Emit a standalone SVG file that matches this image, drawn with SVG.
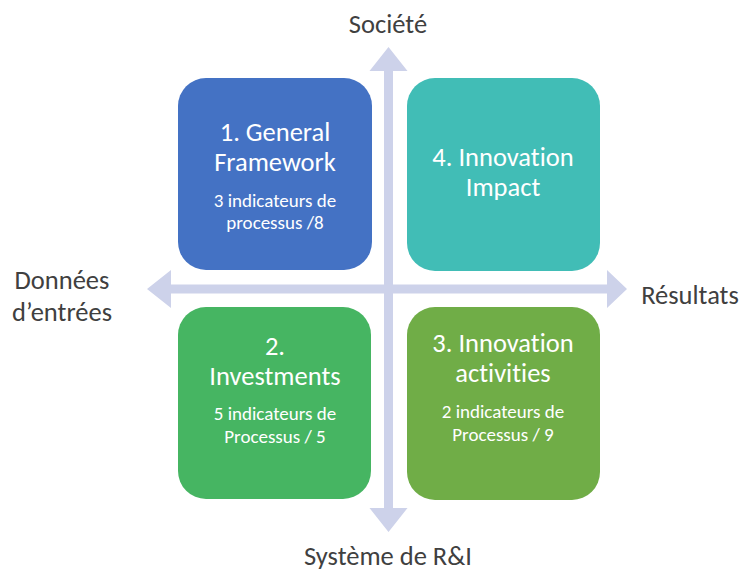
<svg xmlns="http://www.w3.org/2000/svg" width="745" height="572" viewBox="0 0 745 572">
<style>
.box{stroke:none}
.t{font-family:Calibri,Carlito,Lato,"Open Sans",sans-serif;fill:#ffffff;text-anchor:middle;font-variant-ligatures:none}
.h{font-size:26.5px}
.s{font-size:19px}
.lab{font-family:Calibri,Carlito,Lato,"Open Sans",sans-serif;fill:#404040;font-size:26.5px;text-anchor:middle;font-variant-ligatures:none}
.ax{fill:#CDD2EA}
</style>
<rect width="745" height="572" fill="#ffffff"/>
<g id="connectors">
<polygon class="ax" points="147,289 171,270 171,284.5 607,284.5 607,270 627,289 607,308 607,293.5 171,293.5 171,308"/>
<polygon class="ax" points="388.5,47 407.5,71 393,71 393,508 407.5,508 388.5,532 369.5,508 384,508 384,71 369.5,71"/>
</g>
<g id="node1">
<rect class="box" x="178" y="78" width="194" height="192" rx="28" fill="#4472C4"/>
<text class="t h" x="275" y="141">1. General</text>
<text class="t h" x="275" y="171">Framework</text>
<text class="t s" x="275" y="207">3 indicateurs de</text>
<text class="t s" x="275" y="229">processus /8</text>
</g>
<g id="node4">
<rect class="box" x="407" y="78" width="193" height="193" rx="28" fill="#41BDB6"/>
<text class="t h" x="503" y="166">4. Innovation</text>
<text class="t h" x="503" y="196">Impact</text>
</g>
<g id="node2">
<rect class="box" x="178" y="307" width="193" height="192" rx="28" fill="#46B562"/>
<text class="t h" x="275" y="355">2.</text>
<text class="t h" x="275" y="385">Investments</text>
<text class="t s" x="275" y="420">5 indicateurs de</text>
<text class="t s" x="275" y="443">Processus / 5</text>
</g>
<g id="node3">
<rect class="box" x="407" y="307" width="193" height="193" rx="28" fill="#70AD47"/>
<text class="t h" x="503" y="352">3. Innovation</text>
<text class="t h" x="503" y="382">activities</text>
<text class="t s" x="503" y="418">2 indicateurs de</text>
<text class="t s" x="503" y="441">Processus / 9</text>
</g>
<g id="labels">
<text class="lab" x="388" y="33">Société</text>
<text class="lab" x="62" y="289">Données</text>
<text class="lab" x="62" y="321">d’entrées</text>
<text class="lab" x="690" y="304">Résultats</text>
<text class="lab" x="388" y="565">Système de R&amp;I</text>
</g>
</svg>
